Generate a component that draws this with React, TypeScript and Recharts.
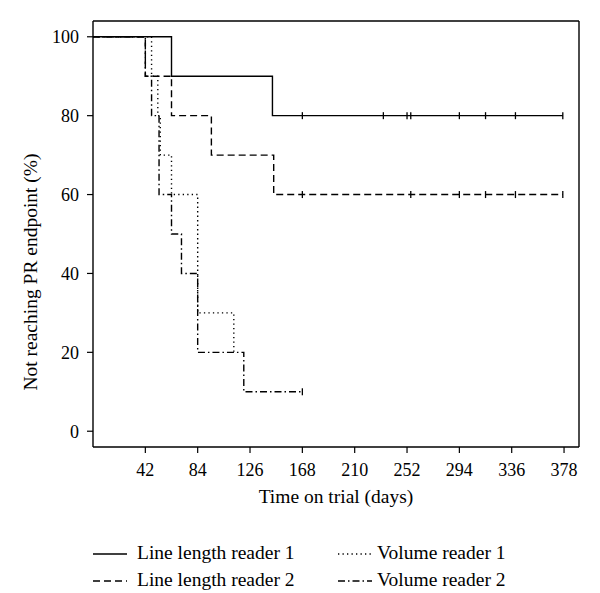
import React from "react";
import { ComposedChart, Line, XAxis, YAxis, ReferenceLine } from "recharts";

const FONT = '"Liberation Serif", "DejaVu Serif", serif';

const xTicks = [42, 84, 126, 168, 210, 252, 294, 336, 378];
const yTicks = [0, 20, 40, 60, 80, 100];

// Kaplan-Meier steps: event times (days) and survival (%) after each event
const lineLen1Times = [0, 63, 144];
const lineLen1Surv = [100, 90, 80];
const lineLen1Censor = [168, 233, 252, 255, 294, 315, 339, 377];

const lineLen2Times = [0, 42, 63, 95, 145];
const lineLen2Surv = [100, 90, 80, 70, 60];
const lineLen2Censor = [168, 255, 294, 315, 339, 377];

const volume1Times = [0, 47, 52, 54, 63, 84, 113];
const volume1Surv = [100, 90, 80, 70, 60, 30, 20];
const volume1Censor: number[] = [];

const volume2Times = [0, 42, 47, 53, 63, 71, 84, 121];
const volume2Surv = [100, 90, 80, 60, 50, 40, 20, 10];
const volume2Censor = [168];

const seriesNames = ["Line length reader 1", "Line length reader 2", "Volume reader 1", "Volume reader 2"];
const seriesDash = ["none", "7 4", "1.3 3.2", "7 3 1.5 3"];

function buildCurve(times: number[], surv: number[], censor: number[]) {
  const pts = times.map((t, i) => ({ x: t, y: surv[i], c: false }));
  censor.forEach((t) => {
    let y = surv[0];
    times.forEach((tt, i) => {
      if (tt <= t) y = surv[i];
    });
    pts.push({ x: t, y, c: true });
  });
  return pts.sort((a, b) => a.x - b.x);
}

const curves = [
  buildCurve(lineLen1Times, lineLen1Surv, lineLen1Censor),
  buildCurve(lineLen2Times, lineLen2Surv, lineLen2Censor),
  buildCurve(volume1Times, volume1Surv, volume1Censor),
  buildCurve(volume2Times, volume2Surv, volume2Censor),
];

const CensorDot = (props: any) => {
  const { cx, cy, payload, index } = props;
  if (!payload || !payload.c) return <g key={`n-${index}`} />;
  return (
    <line
      key={`c-${index}`}
      x1={cx}
      x2={cx}
      y1={cy - 3.5}
      y2={cy + 3.5}
      stroke="#000"
      strokeWidth={1.3}
      strokeDasharray="none"
    />
  );
};

const tickStyle = { fill: "#000", fontSize: 18, fontFamily: FONT };

// rotated y title, sits a little below the plot's middle as in the original
const YTitle = (props: any) => {
  const vb = props.viewBox || {};
  const cx = 30;
  const cy = (vb.y || 0) + (vb.height || 0) / 2 + 38;
  return (
    <text
      x={cx}
      y={cy}
      transform={`rotate(-90 ${cx} ${cy})`}
      textAnchor="middle"
      dominantBaseline="central"
      fill="#000"
      fontSize={19.5}
      fontFamily={FONT}
    >
      Not reaching PR endpoint (%)
    </text>
  );
};

const legendPos = [
  { left: 93, top: 554, textLeft: 137 },
  { left: 93, top: 581, textLeft: 137 },
  { left: 338, top: 554, textLeft: 377 },
  { left: 338, top: 581, textLeft: 377 },
];

export default function App() {
  return (
    <div style={{ position: "absolute", left: 0, top: 0, width: 600, height: 593, background: "#fff" }}>
      <ComposedChart width={600} height={593} margin={{ top: 21, right: 21, left: 0, bottom: 90 }}>
        <XAxis
          type="number"
          dataKey="x"
          domain={[0, 390]}
          ticks={xTicks}
          allowDataOverflow
          tickSize={6}
          tickMargin={10}
          height={56}
          axisLine={{ stroke: "#000", strokeWidth: 1.4 }}
          tickLine={{ stroke: "#000", strokeWidth: 1.2 }}
          tick={tickStyle}
          label={{
            value: "Time on trial (days)",
            position: "insideBottom",
            offset: 0,
            style: { fill: "#000", fontSize: 19.5, fontFamily: FONT },
          }}
        />
        <YAxis
          type="number"
          dataKey="y"
          domain={[-4, 104]}
          ticks={yTicks}
          allowDataOverflow
          width={93}
          tickSize={6}
          tickMargin={8}
          axisLine={{ stroke: "#000", strokeWidth: 1.4 }}
          tickLine={{ stroke: "#000", strokeWidth: 1.2 }}
          tick={tickStyle}
          label={{ content: YTitle }}
        />
        <ReferenceLine y={104} stroke="#000" strokeWidth={1.4} />
        <ReferenceLine x={390} stroke="#000" strokeWidth={1.4} />
        {curves.map((data, i) => (
          <Line
            key={seriesNames[i]}
            data={data}
            dataKey="y"
            type="stepAfter"
            stroke="#000"
            strokeWidth={1.4}
            strokeDasharray={seriesDash[i]}
            dot={CensorDot}
            activeDot={false}
            isAnimationActive={false}
          />
        ))}
      </ComposedChart>
      {seriesNames.map((name, i) => (
        <div key={name}>
          <svg
            width={36}
            height={10}
            style={{ position: "absolute", left: legendPos[i].left, top: legendPos[i].top - 5 }}
          >
            <line x1={0} x2={34} y1={5} y2={5} stroke="#000" strokeWidth={1.4} strokeDasharray={seriesDash[i]} />
          </svg>
          <div
            style={{
              position: "absolute",
              left: legendPos[i].textLeft,
              top: legendPos[i].top - 12,
              fontFamily: FONT,
              fontSize: 19.5,
              lineHeight: "22px",
              color: "#000",
              whiteSpace: "nowrap",
            }}
          >
            {name}
          </div>
        </div>
      ))}
    </div>
  );
}
